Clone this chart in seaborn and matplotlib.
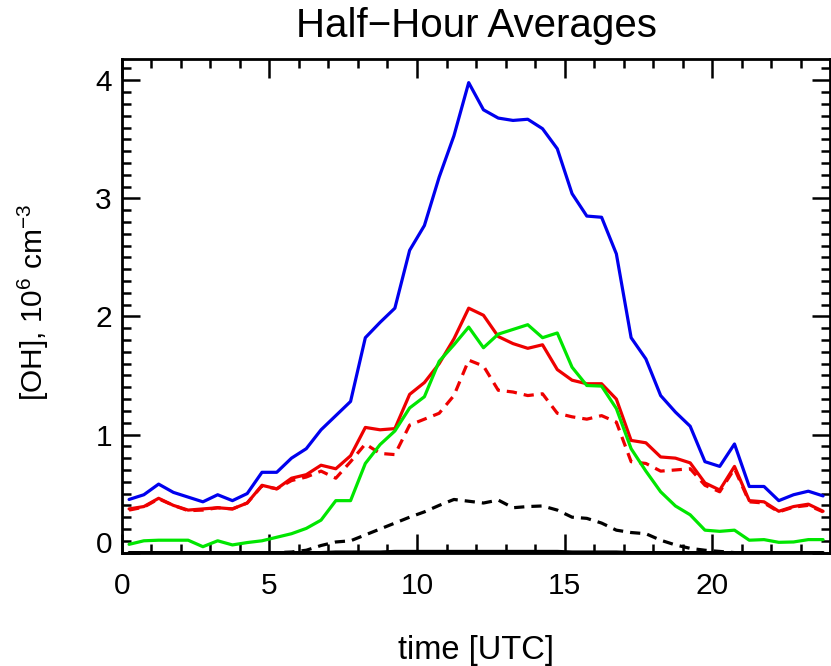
import numpy as np
import pandas as pd
import matplotlib
matplotlib.use("Agg")
import matplotlib.pyplot as plt
from matplotlib.ticker import MultipleLocator
import seaborn as sns

# ---- data (half-hour averages, hours UTC) ----
hours = [0.25, 0.75, 1.25, 1.75, 2.25, 2.75, 3.25, 3.75, 4.25, 4.75, 5.25, 5.75,
         6.25, 6.75, 7.25, 7.75, 8.25, 8.75, 9.25, 9.75, 10.25, 10.75, 11.25, 11.75,
         12.25, 12.75, 13.25, 13.75, 14.25, 14.75, 15.25, 15.75, 16.25, 16.75, 17.25, 17.75,
         18.25, 18.75, 19.25, 19.75, 20.25, 20.75, 21.25, 21.75, 22.25, 22.75, 23.25, 23.75]

blue = [0.45, 0.49, 0.58, 0.51, 0.47, 0.43, 0.49, 0.44, 0.50, 0.68, 0.68, 0.80,
        0.88, 1.04, 1.16, 1.28, 1.82, 1.95, 2.07, 2.56, 2.77, 3.18, 3.53, 3.98,
        3.75, 3.68, 3.66, 3.67, 3.59, 3.42, 3.04, 2.85, 2.84, 2.53, 1.82, 1.64,
        1.33, 1.19, 1.07, 0.77, 0.73, 0.92, 0.56, 0.56, 0.44, 0.49, 0.52, 0.48]

red_solid = [0.37, 0.39, 0.46, 0.40, 0.36, 0.37, 0.38, 0.37, 0.42, 0.57, 0.54, 0.63,
             0.66, 0.74, 0.71, 0.82, 1.06, 1.04, 1.05, 1.34, 1.44, 1.60, 1.81, 2.07,
             2.01, 1.83, 1.77, 1.73, 1.76, 1.55, 1.46, 1.43, 1.43, 1.30, 0.95, 0.93,
             0.81, 0.80, 0.76, 0.59, 0.53, 0.73, 0.44, 0.43, 0.35, 0.39, 0.41, 0.35]

red_dashed = [0.36, 0.385, 0.455, 0.40, 0.355, 0.36, 0.38, 0.37, 0.42, 0.565, 0.54, 0.61,
              0.64, 0.69, 0.63, 0.77, 0.92, 0.84, 0.83, 1.08, 1.13, 1.18, 1.33, 1.63,
              1.58, 1.375, 1.36, 1.33, 1.345, 1.18, 1.15, 1.13, 1.16, 1.105, 0.77, 0.755,
              0.69, 0.70, 0.71, 0.57, 0.515, 0.71, 0.43, 0.42, 0.345, 0.385, 0.40, 0.345]

green = [0.07, 0.10, 0.105, 0.105, 0.105, 0.05, 0.10, 0.065, 0.085, 0.10, 0.13, 0.16,
         0.205, 0.275, 0.44, 0.44, 0.755, 0.915, 1.03, 1.225, 1.32, 1.62, 1.76, 1.91,
         1.735, 1.85, 1.89, 1.93, 1.82, 1.86, 1.57, 1.415, 1.41, 1.22, 0.88, 0.69,
         0.515, 0.395, 0.32, 0.19, 0.18, 0.19, 0.105, 0.11, 0.087, 0.09, 0.11, 0.11]

black_dashed = [0.0, 0.0, 0.0, 0.0, 0.0, 0.0, 0.0, 0.0, 0.0, 0.0, 0.0, 0.005,
                0.02, 0.06, 0.09, 0.10, 0.15, 0.20, 0.25, 0.30, 0.345, 0.40, 0.45, 0.435,
                0.42, 0.445, 0.38, 0.39, 0.395, 0.36, 0.30, 0.29, 0.25, 0.19, 0.17, 0.16,
                0.105, 0.065, 0.036, 0.02, 0.01, 0.0, 0.0, 0.0, 0.0, 0.0, 0.0, 0.0]

black_solid = [0.0, 0.0, 0.0, 0.0, 0.0, 0.0, 0.0, 0.0, 0.0, 0.0, 0.0, 0.0,
               0.0, 0.0, 0.005, 0.005, 0.005, 0.005, 0.01, 0.01, 0.01, 0.01, 0.01, 0.01,
               0.01, 0.01, 0.01, 0.01, 0.01, 0.01, 0.005, 0.005, 0.005, 0.005, 0.0, 0.0,
               0.0, 0.0, 0.0, 0.0, 0.0, 0.0, 0.0, 0.0, 0.0, 0.0, 0.0, 0.0]

title = "Half\u2212Hour Averages"
xlabel = "time [UTC]"
ylabel = r"[OH], 10$^{6}$ cm$^{-3}$"

# ---- style ----
sns.set_style("white")
plt.rcParams['font.family'] = ['Liberation Sans', 'DejaVu Sans']
plt.rcParams['mathtext.fontset'] = 'custom'
plt.rcParams['mathtext.rm'] = 'Liberation Sans'
plt.rcParams['mathtext.it'] = 'Liberation Sans'
plt.rcParams['mathtext.default'] = 'regular'
for key in ['text.color', 'axes.labelcolor', 'xtick.color', 'ytick.color',
            'axes.edgecolor', 'axes.titlecolor']:
    plt.rcParams[key] = 'black'

fig = plt.figure(figsize=(8.31, 6.66), dpi=100)
ax = fig.add_axes([0.14645, 0.17027, 0.8529, 0.7411])

series = [
    (blue, '#0000ee', '-'),
    (red_solid, '#ee0000', '-'),
    (red_dashed, '#ee0000', '--'),
    (green, '#00e600', '-'),
    (black_dashed, '#000000', '--'),
    (black_solid, '#000000', '-'),
]
lw = 2.3
for vals, col, ls in series:
    df = pd.DataFrame({'t': hours, 'v': vals})
    sns.lineplot(data=df, x='t', y='v', ax=ax, color=col, linewidth=lw,
                 estimator=None, sort=False)
    line = ax.lines[-1]
    if ls == '--':
        line.set_dashes((3.2, 2.2))

ax.set_xlim(0, 24)
ax.set_ylim(0, 4.18)
ax.set_xticks([0, 5, 10, 15, 20])
ax.set_yticks([0, 1, 2, 3, 4])
ax.xaxis.set_minor_locator(MultipleLocator(1))
ax.yaxis.set_minor_locator(MultipleLocator(0.1))

for s in ax.spines.values():
    s.set_linewidth(2.0)
    s.set_color('black')
    s.set_visible(True)

ax.tick_params(axis='x', which='major', direction='in', top=True, bottom=True,
               length=14, width=1.8, labelsize=21.5, pad=14, color='black',
               labelcolor='black')
ax.tick_params(axis='x', which='minor', direction='in', top=True, bottom=True,
               length=6.5, width=1.8, color='black')
ax.tick_params(axis='y', which='major', direction='in', left=True, right=True,
               length=13, width=1.8, labelsize=21.5, pad=7, color='black',
               labelcolor='black')
ax.tick_params(axis='y', which='minor', direction='in', left=True, right=True,
               length=6.5, width=1.8, color='black')

ax.set_title(title, fontsize=29, pad=15.6, color='black')
ax.set_xlabel(xlabel, fontsize=23.5, color='black')
ax.set_ylabel(ylabel, fontsize=21.5, color='black')
ax.xaxis.set_label_coords(0.5, -0.2156)
ax.xaxis.label.set_verticalalignment('baseline')
ax.yaxis.set_label_coords(-0.100, 0.506)

fig.canvas.draw()
ylabs = ax.get_yticklabels()
ylabs[0].set_verticalalignment('baseline')

fig.savefig("out.png", dpi=100)
